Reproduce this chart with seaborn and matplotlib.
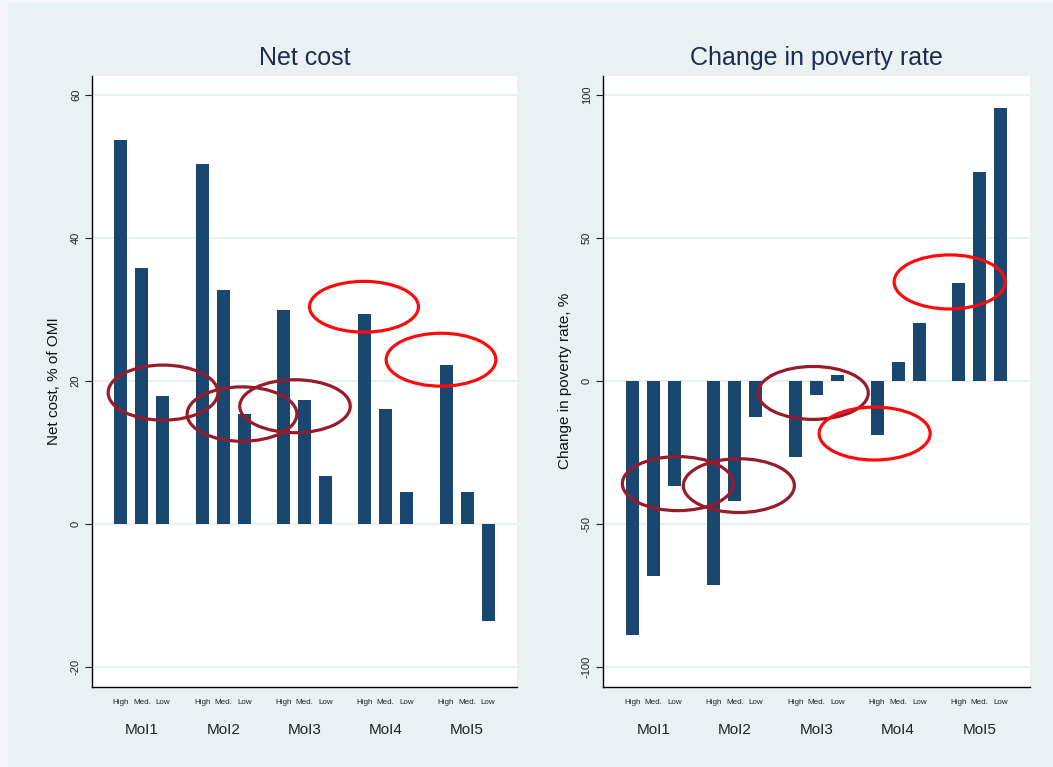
import matplotlib
matplotlib.use("Agg")
import matplotlib.pyplot as plt
from matplotlib.patches import Ellipse, Rectangle
import pandas as pd
import seaborn as sns

# Categories
moi = ["MoI1", "MoI2", "MoI3", "MoI4", "MoI5"]
levels = ["High", "Med.", "Low"]

# Net cost, % of OMI
net_high = [53.7, 50.4, 30.0, 29.4, 22.3]
net_med = [35.8, 32.7, 17.3, 16.1, 4.5]
net_low = [17.9, 15.4, 6.8, 4.5, -13.5]

# Change in poverty rate, %
pov_high = [-88.8, -71.3, -26.6, -18.9, 34.3]
pov_med = [-68.2, -42.0, -4.9, 6.6, 73.1]
pov_low = [-36.7, -12.6, 2.1, 20.4, 95.5]

net_ticks = [-20, 0, 20, 40, 60]
pov_ticks = [-100, -50, 0, 50, 100]

BAR = "#1a476f"
TITLE = "#1c2c52"
GRID = "#e8f0f2"
DARKRED = "#981b2b"
RED = "#ff0a0a"

# highlight rings: (x centre, y centre, width, height, colour)
net_rings = [
    (0.259, 18.4, 1.35, 7.7, DARKRED),
    (1.231, 15.4, 1.35, 7.6, DARKRED),
    (1.883, 16.5, 1.36, 7.4, DARKRED),
    (2.732, 30.4, 1.34, 7.1, RED),
    (3.680, 23.0, 1.35, 7.4, RED),
]
pov_rings = [
    (0.302, -35.9, 1.36, 18.9, DARKRED),
    (1.049, -36.6, 1.36, 18.8, DARKRED),
    (1.959, -4.2, 1.35, 18.5, DARKRED),
    (2.712, -18.4, 1.36, 18.5, RED),
    (3.631, 34.6, 1.36, 18.9, RED),
]


def long_frame(high, med, low):
    rows = []
    for lvl, vals in zip(levels, (high, med, low)):
        for m, v in zip(moi, vals):
            rows.append({"moi": m, "level": lvl, "value": v})
    return pd.DataFrame(rows)


sns.set_theme(style="white")
plt.rcParams["font.family"] = ["Liberation Sans", "DejaVu Sans"]

W, H = 1053, 767
fig = plt.figure(figsize=(W / 100, H / 100), dpi=100)
fig.patch.set_facecolor("#f4f5f7")
fig.add_artist(Rectangle((8 / W, 0), 1 - 8 / W, 1 - 3 / H, transform=fig.transFigure,
                         facecolor="#e9f1f3", edgecolor="none", zorder=-10))

bottom = 1 - 687 / H
height = (687 - 75.7) / H
ax1 = fig.add_axes([92 / W, bottom, 425 / W, height])
ax2 = fig.add_axes([603 / W, bottom, 427 / W, height])

DODGE = 0.775 / 3


def draw_panel(ax, df, title, ylabel, ylim, yticks, rings):
    ax.set_facecolor("white")
    sns.barplot(data=df, x="moi", y="value", hue="level", order=moi,
                hue_order=levels, palette=[BAR] * 3, width=0.775, gap=0.38,
                errorbar=None, legend=False, saturation=1, ax=ax,
                linewidth=0)
    ax.set_axisbelow(True)
    ax.grid(axis="y", color=GRID, lw=1.4)
    ax.grid(axis="x", visible=False)
    ax.set_xlim(-0.615, 4.615)
    ax.set_ylim(*ylim)

    # group names as major ticks, level names under each bar as minor ticks
    ax.xaxis.remove_overlapping_locs = False
    ax.set_xticks(range(len(moi)))
    ax.set_xticklabels(moi)
    centers = [i + o for i in range(len(moi)) for o in (-DODGE, 0, DODGE)]
    ax.set_xticks(centers, minor=True)
    ax.set_xticklabels(levels * len(moi), minor=True)
    ax.tick_params(axis="x", which="both", length=0, colors="#222222")
    ax.tick_params(axis="x", which="major", pad=26, labelsize=11)
    ax.tick_params(axis="x", which="minor", pad=9, labelsize=5.8)

    ax.set_yticks(yticks)
    ax.set_yticklabels([str(t) for t in yticks], rotation=90, va="center")
    ax.tick_params(axis="y", length=5, width=0.8, color="#222222",
                   labelsize=8, pad=3, left=True, labelcolor="#222222")

    for side in ("top", "right"):
        ax.spines[side].set_visible(False)
    for side in ("left", "bottom"):
        ax.spines[side].set_color("black")
        ax.spines[side].set_linewidth(1.0)

    ax.set_xlabel("")
    ax.set_ylabel(ylabel, fontsize=11, color="#111111", labelpad=7)
    ax.set_title(title, fontsize=18, color=TITLE, pad=8)

    for x, y, w, h, c in rings:
        ax.add_patch(Ellipse((x, y), w, h, fill=False, edgecolor=c, lw=2.3,
                             zorder=5, clip_on=False))


draw_panel(ax1, long_frame(net_high, net_med, net_low), "Net cost",
           "Net cost, % of OMI", (-22.75, 62.7), net_ticks, net_rings)
draw_panel(ax2, long_frame(pov_high, pov_med, pov_low), "Change in poverty rate",
           "Change in poverty rate, %", (-107.0, 106.7), pov_ticks, pov_rings)

fig.savefig("out.png", dpi=100, facecolor=fig.get_facecolor())
